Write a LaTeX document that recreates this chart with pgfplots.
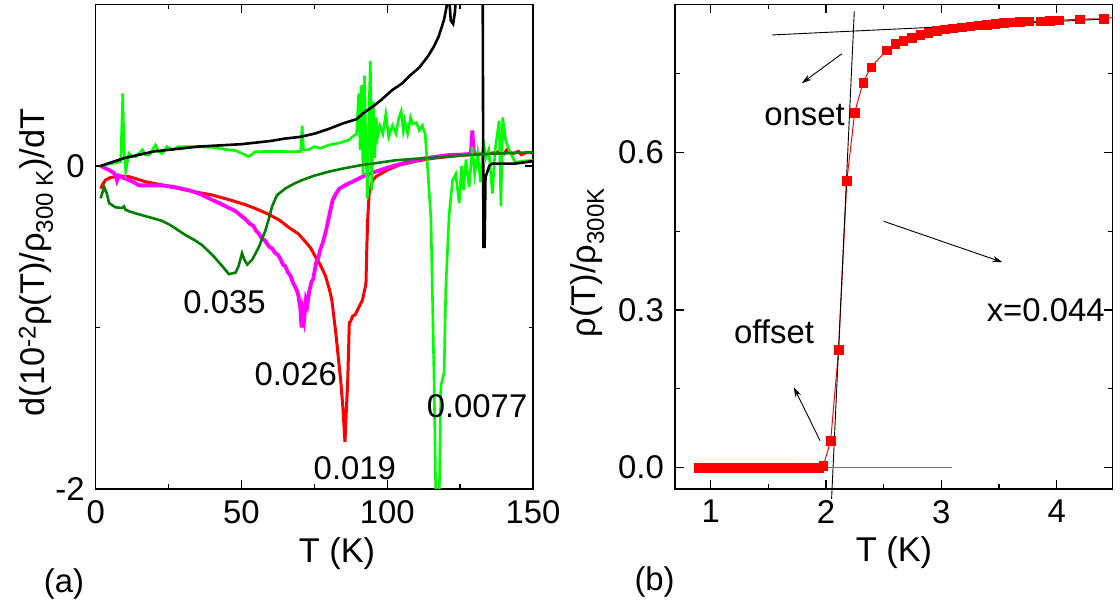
\documentclass[border=0pt]{standalone}
\usepackage{fontspec}
\setmainfont{Liberation Sans}
\usepackage{pgfplots}
\pgfplotsset{compat=1.18}
\usetikzlibrary{arrows.meta}
\definecolor{dgreen}{RGB}{0,128,0}
\definecolor{bgreen}{RGB}{0,255,0}
\definecolor{mag}{RGB}{255,0,255}
\definecolor{myred}{RGB}{255,0,0}
\begin{document}
\fontsize{33}{40}\selectfont
\begin{tikzpicture}
\useasboundingbox (0bp,0bp) rectangle (1120bp,605bp);
\pgfplotsset{myaxis/.style={scale only axis, anchor=south west, tick align=inside,
  major tick length=8.5bp, minor tick length=4.5bp,
  axis line style={line width=1.4bp},
  every tick/.style={black, line width=1.3bp},
  every minor tick/.style={black, line width=1.3bp},
  height=484.5bp}}
% ---------------- panel (a)
\begin{axis}[myaxis, at={(95.7bp,116bp)}, width=437.3bp,
  xmin=0, xmax=150, ymin=-2, ymax=1,
  xtick={0,50,100,150}, xticklabels={0,50,100,150}, minor xtick={25,75,125},
  ytick={-2,0}, yticklabels={-2,0}, minor ytick={-1}]
\addplot[myred, line width=3bp] coordinates {
(1.7,-0.14) (2.5,-0.11) (3.4,-0.087) (5,-0.072) (6.8,-0.066) (9,-0.063) (11.4,-0.066) (14,-0.08) (17,-0.097) (22,-0.115) (28.5,-0.14) (34,-0.16) (40,-0.18) (46,-0.21) (51.4,-0.24) (55,-0.265) (59.4,-0.30) (63,-0.335) (66.2,-0.38) (69.5,-0.42) (72,-0.47) (73.8,-0.51) (75.3,-0.56) (77,-0.61) (78.8,-0.68) (80.1,-0.76) (81,-0.83) (82.4,-1.04) (83.3,-1.2) (84.1,-1.34) (84.8,-1.5) (85.5,-1.71) (86,-1.5) (86.4,-1.36) (86.8,-1.1) (87,-0.97) (87.5,-0.96) (88.1,-0.93) (89,-0.92) (90.4,-0.87) (91.5,-0.83) (92.7,-0.73) (93.0,-0.5) (93.3,-0.33) (93.8,-0.17) (95,-0.09) (96.1,-0.066) (100,-0.025) (104.1,0.006) (110,0.03) (115.5,0.047) (121,0.058) (127,0.068) (132,0.075) (136,0.08) (138.4,0.09) (140,0.075) (141,0.1) (143,0.075) (145,0.09) (146,0.07) (148,0.085) (150,0.08)};
\addplot[mag, line width=3.8bp] coordinates {
(1.7,0) (4.6,-0.025) (6,-0.04) (6.8,-0.056) (7.3,-0.09) (8,-0.06) (9,-0.07) (11.4,-0.087) (13,-0.1) (14.8,-0.12) (18,-0.12) (22.8,-0.12) (27,-0.13) (32,-0.15) (36,-0.175) (40,-0.21) (43,-0.235) (45.7,-0.26) (48,-0.28) (50,-0.31) (51.4,-0.33) (53,-0.36) (54,-0.37) (55,-0.40) (56,-0.42) (57,-0.45) (58,-0.46) (59.5,-0.50) (60.5,-0.51) (61.6,-0.54) (62.5,-0.55) (63.5,-0.58) (64.2,-0.61) (65,-0.62) (66,-0.66) (66.8,-0.68) (67.6,-0.72) (68.5,-0.75) (69.2,-0.78) (69.5,-0.80) (70.2,-0.88) (70.6,-1.0) (71,-0.9) (71.5,-0.95) (72.1,-0.83) (72.6,-0.86) (73.2,-0.78) (74,-0.72) (74.6,-0.70) (75.6,-0.60) (76.2,-0.58) (77,-0.52) (78,-0.47) (79,-0.40) (80.2,-0.3) (81.3,-0.21) (82.5,-0.17) (83.6,-0.14) (86,-0.115) (88.1,-0.097) (92.7,-0.056) (96,-0.035) (99.5,-0.014) (103,0.005) (107.5,0.027) (112,0.045) (117,0.058) (121.2,0.068) (125,0.07) (128.7,0.075) (129.2,0.22) (129.7,0.075) (131,0.078)};
\addplot[bgreen, line width=2.6bp] coordinates {
(1.7,0) (4,0.01) (7,0.02) (8.6,0.027) (9.3,0.45) (9.7,0.1) (10.3,-0.03) (11.4,0.078) (12.5,0.06) (13.7,0.058) (15,0.08) (16,0.10) (17,0.07) (18.3,0.068) (19.5,0.1) (20.5,0.13) (21.5,0.09) (22.8,0.078) (24.5,0.12) (26.3,0.1) (28.5,0.12) (34,0.12) (40,0.115) (45.7,0.1) (48,0.095) (50.2,0.078) (52.5,0.058) (54.8,0.089) (60,0.09) (68.5,0.089) (70.3,0.09) (70.8,0.25) (71.3,0.1) (73,0.1) (75,0.12) (77,0.11) (80,0.13) (83,0.14) (86.8,0.16) (88,0.18) (89.5,0.2) (90.2,0.45) (90.7,0.1) (91.2,0.5) (91.7,-0.05) (92.2,0.56) (92.7,0.1) (93.2,-0.2) (93.7,0.3) (94.2,0.65) (94.7,-0.15) (95.2,0.4) (95.7,0.05) (96.2,0.3) (96.7,0.18) (97.5,0.25) (98.5,0.2) (99.5,0.32) (100.5,0.18) (101.8,0.25) (103,0.2) (104,0.3) (104.8,0.34) (105.5,0.22) (106,0.28) (107,0.2) (108,0.3) (108.7,0.26) (110,0.27) (111,0.22) (112,0.25) (113,0.2) (113.8,0.0) (115,-0.33) (116.1,-1.36) (116.7,-2.1) (117.8,-2.1) (118.4,-1.36) (119.5,-1.28) (120.1,-0.75) (121.2,-0.31) (122.4,-0.09) (123.5,-0.05) (124.7,-0.23) (125.5,0.0) (126.2,-0.15) (127,0.04) (128.1,-0.13) (129.2,0.12) (130,-0.05) (131,0.08) (132,-0.1) (133,0.16) (133.8,0.05) (134.8,0.1) (136.1,-0.17) (137,0.1) (138.4,0.28) (139,-0.25) (139.6,0.3) (140.6,0.16) (142,0.09) (144,0.02) (146,0.03) (150,0.035)};
\addplot[black, line width=2.6bp] coordinates {
(1.7,0) (5,0.02) (10,0.05) (15,0.07) (20,0.09) (25,0.1) (30,0.11) (35,0.12) (40,0.125) (45,0.13) (50,0.135) (55,0.145) (60,0.155) (65,0.17) (70,0.18) (75,0.2) (80,0.23) (85,0.265) (89.5,0.29) (92,0.33) (95.6,0.375) (98,0.41) (101.7,0.47) (105,0.51) (107.8,0.56) (111,0.61) (114,0.68) (116,0.74) (117.6,0.80) (119.4,0.90) (120.3,0.98) (120.8,1.05) (121.4,1.0) (121.8,0.90) (122.6,0.88) (123.2,0.95) (123.6,1.05) (124.5,1.5) (128,2) (132.6,2) (133.0,-0.5) (133.4,-0.5) (133.7,-0.07) (135,0.0) (136,0.015) (140,0.015) (144,0.015) (150,0.03)};
\addplot[dgreen, line width=2.6bp] coordinates {
(1.7,-0.2) (2.9,-0.13) (3.8,-0.17) (4.6,-0.23) (6.8,-0.256) (9,-0.26) (9.7,-0.25) (10.2,-0.27) (11.4,-0.28) (14,-0.295) (17,-0.31) (20,-0.325) (22.8,-0.34) (25.5,-0.365) (28.5,-0.40) (31,-0.43) (34,-0.46) (36.5,-0.49) (38.8,-0.53) (41,-0.57) (43.4,-0.62) (45.7,-0.67) (48,-0.66) (49,-0.62) (50.2,-0.54) (51,-0.58) (52,-0.61) (53.7,-0.58) (56,-0.50) (58.2,-0.40) (59.5,-0.32) (60.5,-0.25) (62.2,-0.18) (65,-0.14) (68,-0.11) (70.8,-0.087) (75,-0.06) (80,-0.035) (85,-0.015) (91.3,0.006) (97,0.02) (102.7,0.035) (110,0.045) (115.5,0.05) (125,0.065) (135,0.075) (150,0.085)};
\node[anchor=base] at (axis cs:44.2,-0.913) {0.035};
\node[anchor=base] at (axis cs:68.6,-1.357) {0.026};
\node[anchor=base] at (axis cs:88.9,-1.944) {0.019};
\node[anchor=base] at (axis cs:130.8,-1.559) {0.0077};
\end{axis}
% ---------------- panel (b)
\begin{axis}[myaxis, at={(675bp,116bp)}, width=437.7bp, clip=false,
  xmin=0.69, xmax=4.486, ymin=-0.041, ymax=0.882,
  xtick={1,2,3,4}, xticklabels={1,2,3,4}, minor xtick={1.5,2.5,3.5},
  ytick={0,0.3,0.6}, yticklabels={0.0,0.3,0.6}, minor ytick={0.15,0.45,0.75}]
\addplot[myred, line width=1bp, mark=square*, mark size=4.3bp, mark options={solid, fill=myred, draw=myred, line width=0.3bp}] coordinates {
(0.89,0) (0.94,0) (0.99,0) (1.04,0) (1.09,0) (1.14,0) (1.19,0) (1.24,0) (1.29,0) (1.34,0) (1.39,0) (1.44,0) (1.49,0) (1.54,0) (1.59,0) (1.64,0) (1.69,0) (1.74,0) (1.79,0) (1.84,0) (1.89,0) (1.94,0)
(1.976,0.003) (2.04,0.051) (2.109,0.225) (2.18,0.546) (2.248,0.676) (2.32,0.733) (2.39,0.763) (2.527,0.795) (2.598,0.807) (2.67,0.813) (2.743,0.819) (2.815,0.824) (2.887,0.828) (2.96,0.832) (3.03,0.835) (3.10,0.837) (3.177,0.839) (3.25,0.841) (3.32,0.843) (3.395,0.844) (3.466,0.845) (3.54,0.847) (3.61,0.848) (3.68,0.849) (3.755,0.850) (3.856,0.850) (3.94,0.851) (4.015,0.852) (4.20,0.854) (4.405,0.855)};
\addplot[myred, line width=1bp] coordinates {(4.405,0.855) (4.49,0.857)};
\addplot[black, line width=0.9bp] coordinates {(2.245,0.869) (2.048,-0.06)};
\addplot[black, line width=0.9bp] coordinates {(1.534,0.824) (4.405,0.854)};
\addplot[black!55, line width=1.2bp] coordinates {(1.31,0) (3.09,0)};
\draw[line width=0.9bp, -{Stealth[length=10bp,width=6bp]}] (axis cs:2.136,0.788) -- (axis cs:1.789,0.732);
\draw[line width=0.9bp, -{Stealth[length=10bp,width=6bp]}] (axis cs:2.50,0.469) -- (axis cs:3.53,0.391);
\draw[line width=0.9bp, -{Stealth[length=10bp,width=6bp]}] (axis cs:1.948,0.051) -- (axis cs:1.72,0.153);
\node[anchor=base] at (axis cs:1.814,0.651) {onset};
\node[anchor=base] at (axis cs:1.549,0.236) {offset};
\node[anchor=base] at (axis cs:3.905,0.279) {x=0.044};
\end{axis}
% ---------------- labels
\node[anchor=base, font=\fontsize{34.5}{40}\selectfont] at (337bp,42bp) {T (K)};
\node[anchor=base, font=\fontsize{34.5}{40}\selectfont] at (894bp,43.3bp) {T (K)};
\node[anchor=base] at (64bp,13bp) {(a)};
\node[anchor=base] at (654.6bp,15bp) {(b)};
\node[rotate=90, anchor=base, font=\fontsize{34.5}{40}\selectfont] at (44.5bp,342.5bp) {d(10\textsuperscript{-2}ρ(T)/ρ\textsubscript{300 K})/dT};
\node[rotate=90, anchor=base, font=\fontsize{34.5}{40}\selectfont] at (595.7bp,342.5bp) {ρ(T)/ρ\textsubscript{300K}};
\end{tikzpicture}
\end{document}
